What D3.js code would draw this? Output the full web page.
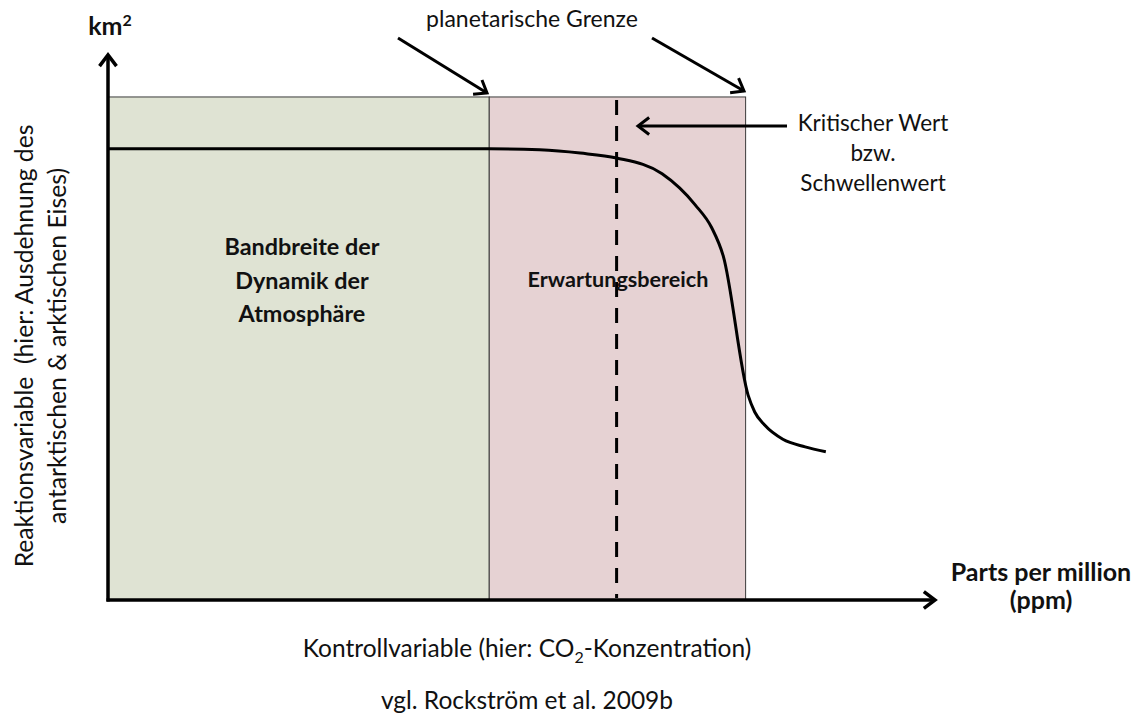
<!DOCTYPE html>
<html>
<head>
    <meta charset="utf-8">
    <style>
        body{
            margin: 0;
            background-color: white;
        }
        svg text{
            font-family: Lato, "Open Sans", sans-serif;
            fill: #111;
        }
        .bold{
            font-weight: bold;
        }
    </style>
</head>
<body>
    <svg class="vis"></svg>

    <script src="https://cdnjs.cloudflare.com/ajax/libs/d3/7.8.5/d3.min.js"></script>
    <script>

        var width = 1137;
        var height = 715;

        // abstract units: x = control variable (0..100), y = response variable (0..100)
        var curveX = [0, 46.1, 52.2, 57.1, 61.5, 67.0, 71.0, 73.0, 74.4, 77.4, 78.2, 79.4, 81.6, 84.3, 86.8];
        var curveY = [82.8, 82.8, 82.6, 82.0, 81.1, 78.2, 72.5, 68.3, 63.1, 37.6, 34.5, 32.1, 29.5, 28.1, 27.2];

        var bandNames = ["Dynamik", "Erwartung"];
        var bandStart = [0, 46.1];
        var bandEnd = [46.1, 77.1];
        var bandTop = 92.3;
        var bandColors = ["#dfe3d3", "#e6d2d3"];

        var criticalValue = 61.5;

        var vis = d3.select("svg.vis")
                 .attr("width", width)
                 .attr("height", height);

        var x = d3.scaleLinear().domain([0, 100]).range([108, 935]);
        var y = d3.scaleLinear().domain([0, 100]).range([600, 55]);

        // bands
        vis.append("g").selectAll("rect")
            .data(bandNames)
            .join("rect")
            .attr("x", (d, i) => x(bandStart[i]))
            .attr("y", y(bandTop))
            .attr("width", (d, i) => x(bandEnd[i]) - x(bandStart[i]))
            .attr("height", y(0) - y(bandTop))
            .attr("fill", (d, i) => bandColors[i])
            .attr("stroke", "#3a3a3a")
            .attr("stroke-width", 1);

        // critical value
        vis.append("line")
            .attr("x1", x(criticalValue)).attr("x2", x(criticalValue))
            .attr("y1", y(bandTop) + 3).attr("y2", y(0) - 2)
            .attr("stroke", "black")
            .attr("stroke-width", 3)
            .attr("stroke-dasharray", "15 11");

        // response curve
        var line = d3.line()
            .x((d, i) => x(curveX[i]))
            .y((d, i) => y(curveY[i]))
            .curve(d3.curveMonotoneX);

        vis.append("path")
            .datum(curveX)
            .attr("d", line)
            .attr("fill", "none")
            .attr("stroke", "black")
            .attr("stroke-width", 3);

        function chevron(tip, dir, size){
            // dir: angle in radians the arrow points to
            var a1 = dir + Math.PI - 0.65, a2 = dir + Math.PI + 0.65;
            return "M" + (tip[0] + size * Math.cos(a1)) + "," + (tip[1] + size * Math.sin(a1)) +
                   "L" + tip[0] + "," + tip[1] +
                   "L" + (tip[0] + size * Math.cos(a2)) + "," + (tip[1] + size * Math.sin(a2));
        }

        function arrow(from, to, w){
            var g = vis.append("g")
                .attr("fill", "none")
                .attr("stroke", "black")
                .attr("stroke-width", w);
            g.append("line")
                .attr("x1", from[0]).attr("y1", from[1])
                .attr("x2", to[0]).attr("y2", to[1]);
            var dir = Math.atan2(to[1] - from[1], to[0] - from[0]);
            g.append("path").attr("d", chevron(to, dir, 14));
        }

        // axes
        arrow([x(0), y(0) + 1.5], [x(0), y(100)], 3.5);
        arrow([x(0) - 1.5, y(0)], [x(100), y(0)], 3.5);

        // annotation arrows
        arrow([398, 38], [487, 93], 3);
        arrow([652, 38], [744, 91], 3);
        arrow([787, 126], [638, 126], 3);

        function label(txt, cx, cy, size, cls, anchor){
            return vis.append("text")
                .attr("x", cx).attr("y", cy)
                .attr("text-anchor", anchor || "middle")
                .attr("font-size", size)
                .attr("class", cls || null)
                .text(txt);
        }

        label("planetarische Grenze", 532, 27, 23);
        var km = label("km", 110, 35, 25, "bold");
        km.append("tspan").attr("font-size", 16).attr("dy", -9).text("2");

        label("Kritischer Wert", 873, 131, 22.5);
        label("bzw.", 873, 161, 22.5);
        label("Schwellenwert", 873, 191, 22.5);

        label("Bandbreite der", 302, 255, 23.4, "bold");
        label("Dynamik der", 302, 289, 23.4, "bold");
        label("Atmosphäre", 302, 322, 23.4, "bold");

        label("Erwartungsbereich", 618, 287, 21.6, "bold");

        label("Parts per million", 1041, 581, 25, "bold");
        label("(ppm)", 1041, 609, 25, "bold");

        var ctl = label("Kontrollvariable (hier: CO", 527, 657, 24.5);
        ctl.append("tspan").attr("font-size", 16).attr("dy", 6).text("2");
        ctl.append("tspan").attr("dy", -6).text("-Konzentration)");

        label("vgl. Rockström et al. 2009b", 527, 709, 24.5);

        var yl = vis.append("g").attr("transform", "translate(0,346) rotate(-90)");
        yl.append("text").attr("x", 0).attr("y", 33).attr("text-anchor", "middle")
            .attr("font-size", 24.7).style("white-space", "pre")
            .text("Reaktionsvariable  (hier: Ausdehnung des");
        yl.append("text").attr("x", 0).attr("y", 66).attr("text-anchor", "middle")
            .attr("font-size", 24.7)
            .text("antarktischen & arktischen Eises)");

    </script>
</body>
</html>
